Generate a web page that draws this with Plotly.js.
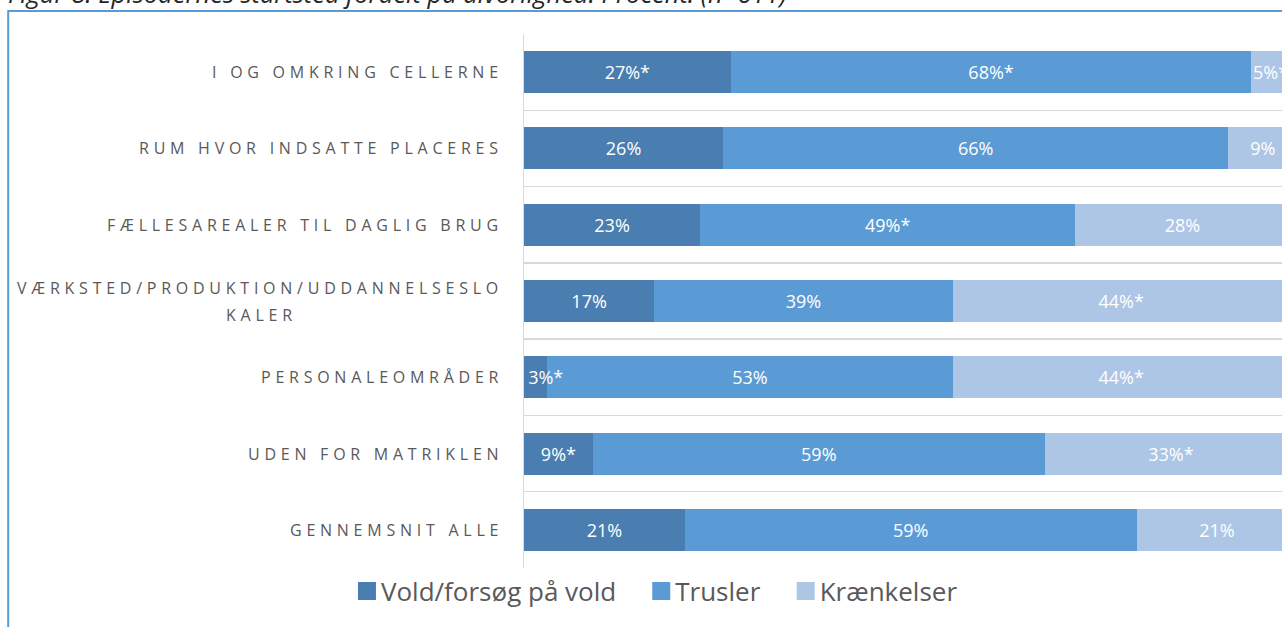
<!DOCTYPE html>
<html>
<head>
<meta charset="utf-8">
<script src="https://cdn.plot.ly/plotly-3.0.1.min.js"></script>
<style>
html, body { margin: 0; padding: 0; overflow: hidden; background: #ffffff; }
#chart { width: 1320px; height: 627px; }
</style>
</head>
<body>
<div id="chart"></div>
<script>
// ---- data ----
const categories = [
  "I OG OMKRING CELLERNE",
  "RUM HVOR INDSATTE PLACERES",
  "FÆLLESAREALER TIL DAGLIG BRUG",
  "VÆRKSTED/PRODUKTION/UDDANNELSESLOKALER",
  "PERSONALEOMRÅDER",
  "UDEN FOR MATRIKLEN",
  "GENNEMSNIT ALLE"
];
const categoryLines = [
  ["I OG OMKRING CELLERNE"],
  ["RUM HVOR INDSATTE PLACERES"],
  ["FÆLLESAREALER TIL DAGLIG BRUG"],
  ["VÆRKSTED/PRODUKTION/UDDANNELSESLO", "KALER"],
  ["PERSONALEOMRÅDER"],
  ["UDEN FOR MATRIKLEN"],
  ["GENNEMSNIT ALLE"]
];
const seriesNames = ["Vold/forsøg på vold", "Trusler", "Krænkelser"];
const vold        = [27, 26, 23, 17, 3, 9, 21];
const trusler     = [68, 66, 49, 39, 53, 59, 59];
const kraenkelser = [5, 9, 28, 44, 44, 33, 21];
const voldLabels        = ["27%*", "26%", "23%", "17%", "3%*", "9%*", "21%"];
const truslerLabels     = ["68%*", "66%", "49%*", "39%", "53%", "59%", "59%"];
const kraenkelserLabels = ["5%*", "9%", "28%", "44%*", "44%*", "33%*", "21%"];
const titleText = "Figur 8: Episodernes startsted fordelt på alvorlighed. Procent. (n=611)";

// ---- styling ----
const colors = ["#4A7EB0", "#5B9BD5", "#ADC6E5"];
const FONT = "Open Sans, Liberation Sans, sans-serif";
const XMAX = 102;

// labels of very narrow first segments start at the bar's left edge (as in the source chart)
function padNarrow(labels, vals) {
  return labels.map((t, i) => vals[i] < 5 ? "\u2007\u2007" + t : t);
}

function barTrace(name, vals, labels, color) {
  return {
    type: "bar",
    orientation: "h",
    name: name,
    x: vals,
    y: categories,
    text: labels,
    texttemplate: "%{text}",
    textposition: "inside",
    insidetextanchor: "middle",
    constraintext: "none",
    textangle: 0,
    textfont: { family: FONT, size: 18, color: "#ffffff" },
    marker: { color: color, line: { width: 0 } },
    hoverinfo: "none",
    cliponaxis: false
  };
}

const traces = [
  barTrace(seriesNames[0], vold, padNarrow(voldLabels, vold), colors[0]),
  barTrace(seriesNames[1], trusler, truslerLabels, colors[1]),
  barTrace(seriesNames[2], kraenkelser, kraenkelserLabels, colors[2])
];

// pixel geometry (plot area: left 524, 100% = 766 px, top 34, height 534)
const W = 1320, H = 627;
const PL = 524, PW = 766 * XMAX / 100, PT = 34, PH = 534;
const px2x = p => (p - PL) / PW;
const px2y = p => (PT + PH - p) / PH;

const LS = "letter-spacing:4.75px";
const LABEL_FONT = { family: FONT, size: 16, color: "#595959" };
const annotations = [];
categoryLines.forEach((lines, i) => {
  if (lines.length === 1) {
    annotations.push({
      xref: "paper", yref: "y", x: 0, y: categories[i],
      xanchor: "right", yanchor: "middle", xshift: -19,
      text: '<span style="' + LS + '">' + lines[0] + '</span>',
      showarrow: false, font: LABEL_FONT
    });
  } else {
    annotations.push({
      xref: "paper", yref: "y", x: 0, y: categories[i],
      xanchor: "right", yanchor: "middle", xshift: -19, yshift: 13.5,
      text: '<span style="' + LS + '">' + lines[0] + '</span>',
      showarrow: false, font: LABEL_FONT
    });
    annotations.push({
      xref: "paper", yref: "y", x: px2x(261), y: categories[i],
      xanchor: "center", yanchor: "middle", yshift: -13.5,
      text: '<span style="' + LS + '">' + lines[1] + '</span>',
      showarrow: false, font: LABEL_FONT
    });
  }
});
annotations.push({
  xref: "paper", yref: "paper", x: px2x(6), y: px2y(-7),
  xanchor: "left", yanchor: "middle",
  text: "<i>" + titleText + "</i>",
  showarrow: false,
  font: { family: FONT, size: 25.5, color: "#262626" }
});

const layout = {
  width: W,
  height: H,
  margin: { l: PL, r: W - PL - PW, t: PT, b: H - PT - PH, pad: 0 },
  barmode: "stack",
  bargap: 0.45,
  paper_bgcolor: "#ffffff",
  plot_bgcolor: "#ffffff",
  font: { family: FONT, color: "#595959" },
  xaxis: {
    range: [0, XMAX], showgrid: false, zeroline: false,
    showticklabels: false, showline: false, ticks: "", fixedrange: true
  },
  yaxis: {
    type: "category", categoryorder: "array", categoryarray: categories,
    autorange: "reversed", tickson: "boundaries",
    showgrid: true, gridcolor: "#D9D9D9", gridwidth: 1.5,
    showticklabels: false, ticks: "",
    showline: true, linecolor: "#D9D9D9", linewidth: 1.5,
    zeroline: false, fixedrange: true
  },
  showlegend: true,
  legend: {
    orientation: "h", x: px2x(645), xanchor: "center",
    y: px2y(591), yanchor: "middle",
    itemwidth: 44,
    font: { family: FONT, size: 26, color: "#595959" },
    traceorder: "normal", bgcolor: "rgba(0,0,0,0)", itemclick: false, itemdoubleclick: false
  },
  shapes: [{
    type: "rect", xref: "paper", yref: "paper",
    x0: px2x(8), x1: px2x(1400), y0: px2y(700), y1: px2y(11),
    line: { color: "#5B9BD5", width: 2 }, fillcolor: "rgba(0,0,0,0)", layer: "below"
  }],
  annotations: annotations
};

Plotly.newPlot("chart", traces, layout, { displayModeBar: false, staticPlot: true }).then(() => {
  // larger square legend swatches placed right before the legend text
  document.querySelectorAll(".legendpoints path").forEach(p => p.setAttribute("d", "M22,9H4V-9H22Z"));
  // keep all bar labels above all bar segments (a label may overflow into the next segment)
  document.querySelectorAll(".barlayer").forEach(layer => {
    layer.querySelectorAll("text.bartext").forEach(t => layer.appendChild(t));
  });
});
</script>
</body>
</html>
